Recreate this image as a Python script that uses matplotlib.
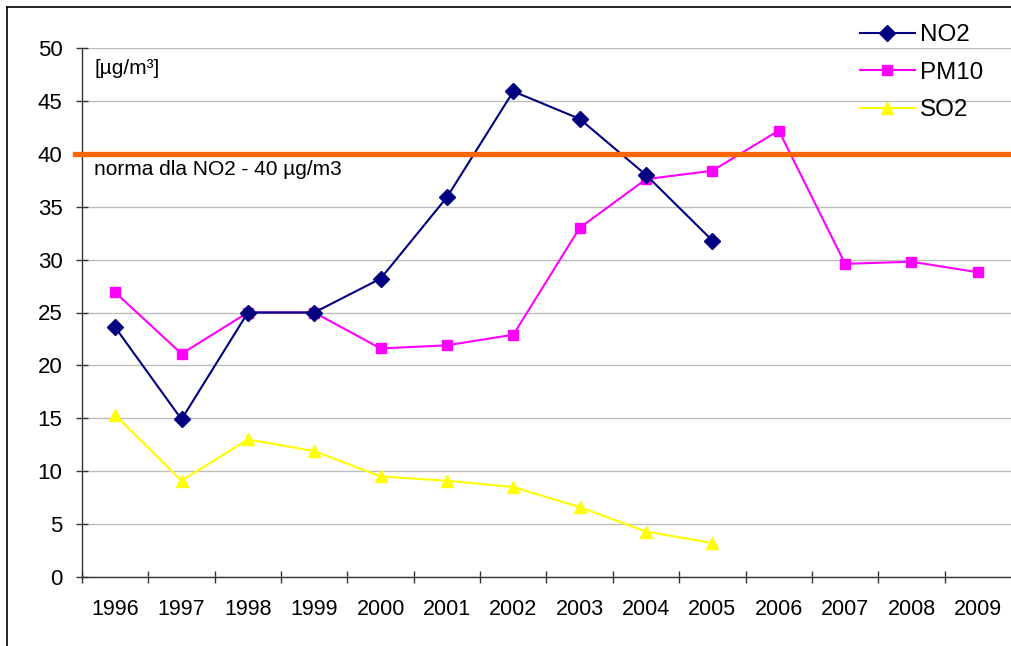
import matplotlib
matplotlib.use("Agg")
from matplotlib import pyplot as plt
from matplotlib.lines import Line2D

plt.rcParams['font.family'] = ['Liberation Sans', 'DejaVu Sans']

years = ['1996', '1997', '1998', '1999', '2000', '2001', '2002',
         '2003', '2004', '2005', '2006', '2007', '2008', '2009']
no2 = [23.6, 14.9, 25.0, 25.0, 28.2, 35.9, 45.9, 43.3, 38.0, 31.8]
pm10 = [26.9, 21.1, 25.0, 25.0, 21.6, 21.9, 22.9, 33.0, 37.6, 38.4,
        42.2, 29.6, 29.8, 28.8]
so2 = [15.3, 9.1, 13.0, 11.9, 9.5, 9.1, 8.5, 6.6, 4.3, 3.2]
norm = 40

fs = 15.5
fig = plt.figure(figsize=(10.11, 6.46), dpi=100)
ax = fig.add_axes([82/1011, 1-577/646, 1-82/1011, (577-48)/646])

x = range(len(years))
ax.plot(x[:len(no2)], no2, color='#000080', marker='D', markersize=8,
        lw=1.5, label='NO2', zorder=4)
ax.plot(x[:len(pm10)], pm10, color='#ff00ff', marker='s', markersize=7.5,
        lw=1.5, label='PM10', zorder=3)
ax.plot(x[:len(so2)], so2, color='#ffff00', marker='^', markersize=8.5,
        lw=1.5, label='SO2', zorder=3)

ax.axhline(norm, xmin=-0.008, xmax=1, color='#ff6600', lw=3.8,
           clip_on=False, zorder=5)

ax.set_xlim(-0.5, len(years) - 0.5)
ax.set_ylim(0, 50)
ax.set_yticks(range(0, 51, 5))
ax.set_xticks(list(x))
ax.set_xticklabels(years)
ax.set_xticks([i - 0.5 for i in x], minor=True)
ax.tick_params(axis='x', which='major', length=0, pad=15.5, labelsize=fs)
ax.tick_params(axis='x', which='minor', direction='inout', length=8, width=1,
               color='#333333')
ax.tick_params(axis='y', direction='inout', length=8, width=1,
               color='#333333', pad=10, labelsize=fs + 0.5)
ax.grid(axis='y', color='#bdbdbd', lw=1)
ax.set_axisbelow(True)
for s in ['top', 'right']:
    ax.spines[s].set_visible(False)
for s in ['left', 'bottom']:
    ax.spines[s].set_color('#333333')
    ax.spines[s].set_linewidth(1)

tr = ax.get_yaxis_transform()
ax.text(0.013, 48.1, '[µg/m³]', transform=tr, fontsize=15, va='center')
ax.text(0.013, 38.5, 'norma dla NO2 - 40 µg/m3', transform=tr,
        fontsize=15, va='center')

fig.legend(loc='upper left', bbox_to_anchor=(860/1011, 1-24/646),
           frameon=False, fontsize=17.4, handlelength=2.27, handletextpad=0.2,
           labelspacing=0.65, borderaxespad=0, borderpad=0)

fig.add_artist(Line2D([7/1011, 7/1011], [0, 1-7/646], color='black', lw=1.2))
fig.add_artist(Line2D([7/1011, 1], [1-7/646, 1-7/646], color='black', lw=1.2))

fig.savefig('out.png', dpi=100)
